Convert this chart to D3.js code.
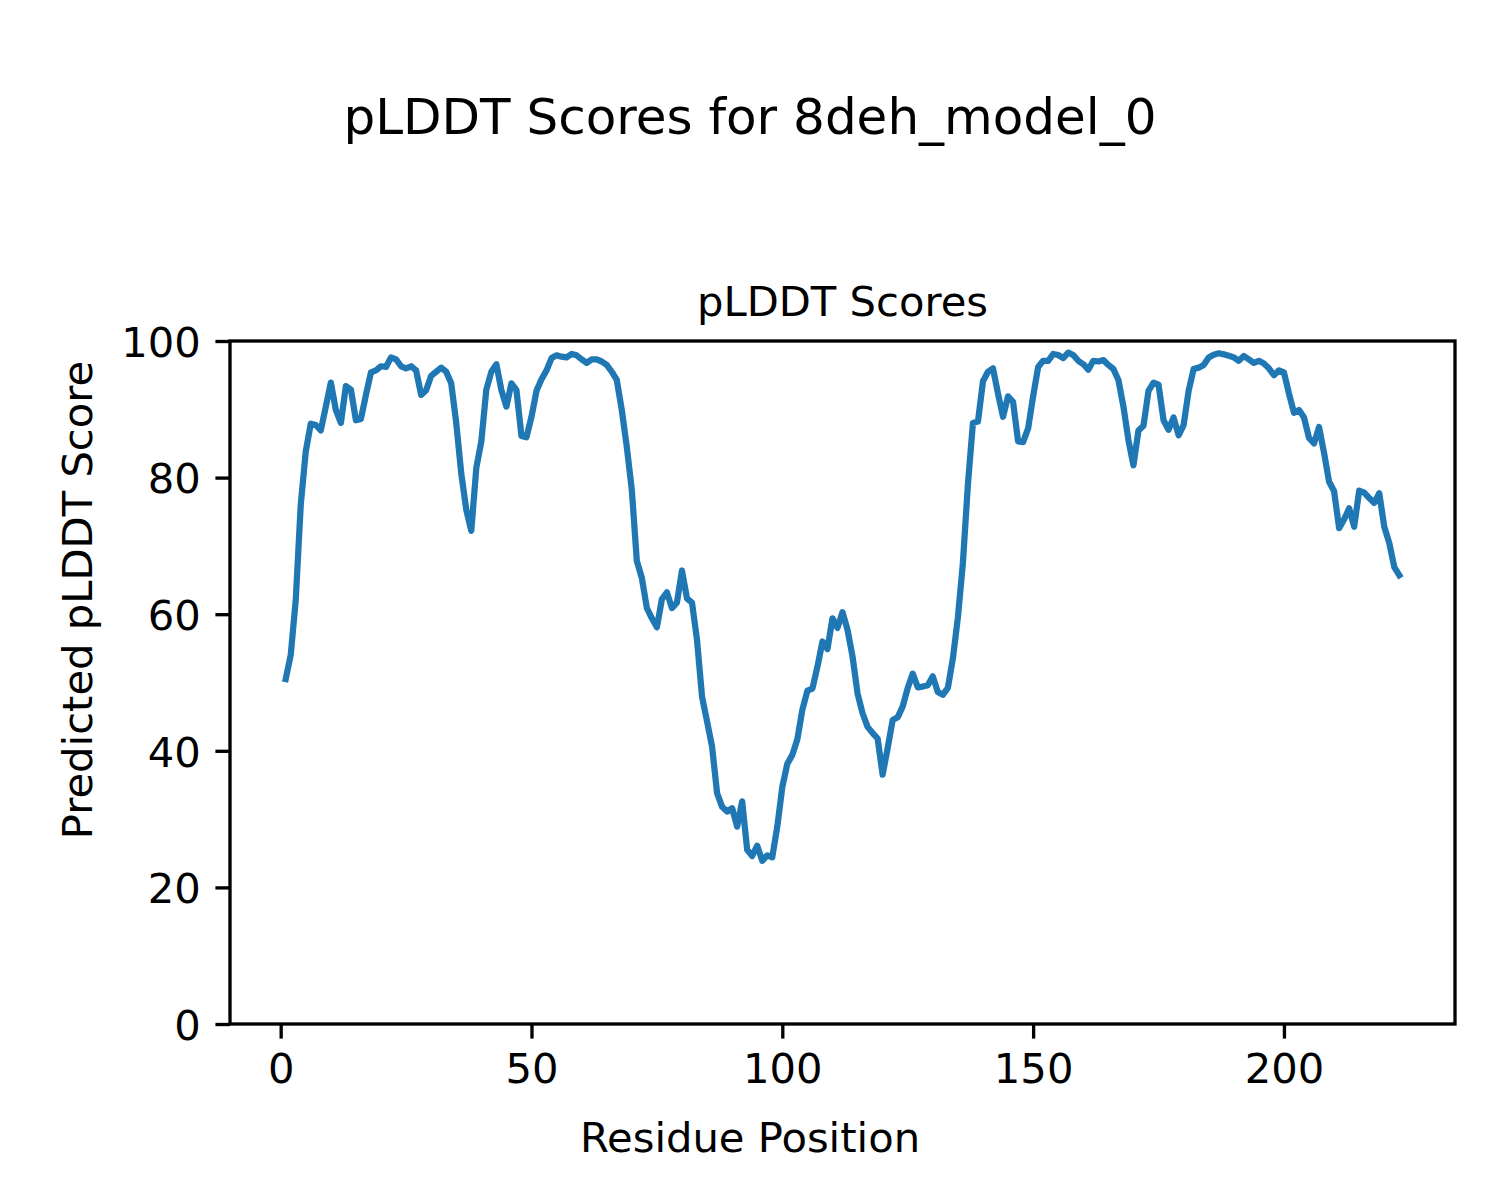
<!DOCTYPE html>
<html>
<head>
<meta charset="utf-8">
<script src="https://cdn.jsdelivr.net/npm/d3@7"></script>
<style>
  html, body { margin: 0; padding: 0; background: #ffffff; }
  svg { display: block; font-family: "DejaVu Sans", sans-serif; }
</style>
</head>
<body>
<script>
// ---- Data ----
const plddt = [
  50.5, 54.0, 62.0, 76.0, 83.8, 87.9, 87.7, 86.9, 90.4, 93.9,
  89.9, 88.0, 93.4, 92.9, 88.4, 88.6, 92.1, 95.4, 95.7, 96.3,
  96.2, 97.6, 97.3, 96.3, 96.0, 96.3, 95.7, 92.1, 92.8, 94.9,
  95.5, 96.1, 95.5, 93.8, 88.0, 80.6, 75.3, 72.2, 81.4, 85.3,
  92.9, 95.5, 96.6, 92.8, 90.4, 93.8, 92.8, 86.1, 85.9, 88.9,
  92.7, 94.4, 95.7, 97.5, 97.9, 97.7, 97.6, 98.1, 97.9, 97.3,
  96.8, 97.3, 97.3, 97.0, 96.5, 95.5, 94.3, 89.9, 84.5, 78.2,
  67.8, 65.3, 60.9, 59.4, 58.1, 62.2, 63.2, 60.9, 61.7, 66.4,
  62.3, 61.7, 56.2, 47.9, 44.3, 40.6, 33.8, 31.8, 31.1, 31.6,
  28.9, 32.6, 25.5, 24.6, 26.1, 23.9, 24.7, 24.4, 28.9, 34.7,
  38.1, 39.4, 41.7, 46.0, 48.8, 49.1, 52.3, 56.0, 54.9, 59.4,
  58.0, 60.3, 57.7, 53.8, 48.4, 45.5, 43.5, 42.6, 41.8, 36.5,
  40.4, 44.5, 44.9, 46.5, 49.2, 51.3, 49.3, 49.4, 49.6, 50.9,
  48.6, 48.2, 49.2, 53.5, 59.5, 67.5, 79.0, 88.0, 88.2, 94.1,
  95.5, 96.0, 92.3, 88.9, 91.9, 91.1, 85.3, 85.2, 87.2, 91.9,
  96.2, 97.1, 97.1, 98.1, 97.95, 97.5, 98.3, 97.95, 97.1, 96.6,
  95.8, 97.1, 97.0, 97.2, 96.5, 95.9, 94.3, 90.4, 85.5, 81.8,
  86.9, 87.6, 92.7, 93.9, 93.6, 88.4, 87.0, 88.8, 86.2, 87.7,
  92.7, 95.9, 96.1, 96.5, 97.6, 98.0, 98.2, 98.05, 97.85, 97.6,
  97.1, 97.8, 97.3, 96.8, 97.1, 96.7, 96.0, 95.0, 95.7, 95.4,
  92.3, 89.5, 89.9, 88.8, 85.8, 85.0, 87.4, 83.6, 79.4, 78.0,
  72.6, 73.9, 75.5, 72.8, 78.1, 77.8, 77.0, 76.3, 77.7, 72.8,
  70.4, 66.9, 65.7
];
const residues = plddt.map((_, i) => i + 1);
const xTicks = [0, 50, 100, 150, 200];
const yTicks = [0, 20, 40, 60, 80, 100];
const suptitleText = "pLDDT Scores for 8deh_model_0";
const titleText = "pLDDT Scores";
const xLabelText = "Residue Position";
const yLabelText = "Predicted pLDDT Score";

// ---- Layout ----
const W = 1500, H = 1200;
const axL = 230, axR = 1455, axT = 341, axB = 1024;
const tickLen = 14.6, tickPad = 14.6, spineW = 3.33;
const fs = 41.7;

const svg = d3.select("body").append("svg")
  .attr("width", W).attr("height", H)
  .attr("viewBox", `0 0 ${W} ${H}`);
svg.append("rect").attr("width", W).attr("height", H).attr("fill", "#ffffff");

const xmin = d3.min(residues), xmax = d3.max(residues);
const xm = 0.05 * (xmax - xmin);
const x = d3.scaleLinear().domain([xmin - xm, xmax + xm]).range([axL, axR]);
const y = d3.scaleLinear().domain([0, 100]).range([axB, axT]);

// Line
const line = d3.line().x((d, i) => x(residues[i])).y(d => y(d));
svg.append("path")
  .datum(plddt)
  .attr("d", line)
  .attr("fill", "none")
  .attr("stroke", "#1f77b4")
  .attr("stroke-width", 6.25)
  .attr("stroke-linejoin", "round")
  .attr("stroke-linecap", "square");

// Spines
svg.append("rect")
  .attr("x", axL).attr("y", axT)
  .attr("width", axR - axL).attr("height", axB - axT)
  .attr("fill", "none").attr("stroke", "#000").attr("stroke-width", spineW);

// X axis
const xAxis = d3.axisBottom(x).tickValues(xTicks).tickSize(tickLen).tickPadding(tickPad).tickFormat(d3.format("d"));
const gx = svg.append("g").attr("transform", `translate(0,${axB})`).call(xAxis);
gx.select(".domain").remove();
gx.selectAll(".tick line").attr("stroke", "#000").attr("stroke-width", spineW);
gx.selectAll(".tick text")
  .attr("fill", "#000")
  .style("font-family", "DejaVu Sans")
  .style("font-size", fs + "px")
  .attr("dy", null)
  .attr("y", 59);

// Y axis
const yAxis = d3.axisLeft(y).tickValues(yTicks).tickSize(tickLen).tickPadding(tickPad).tickFormat(d3.format("d"));
const gy = svg.append("g").attr("transform", `translate(${axL},0)`).call(yAxis);
gy.select(".domain").remove();
gy.selectAll(".tick line").attr("stroke", "#000").attr("stroke-width", spineW);
gy.selectAll(".tick text")
  .attr("fill", "#000")
  .style("font-family", "DejaVu Sans")
  .style("font-size", fs + "px")
  .attr("dy", null)
  .attr("y", 15.2);

// Titles and labels
svg.append("text")
  .attr("x", 750).attr("y", 134)
  .attr("text-anchor", "middle")
  .style("font-size", "50px")
  .attr("fill", "#000")
  .text(suptitleText);

svg.append("text")
  .attr("x", (axL + axR) / 2).attr("y", 316)
  .attr("text-anchor", "middle")
  .style("font-size", fs + "px")
  .attr("fill", "#000")
  .text(titleText);

svg.append("text")
  .attr("x", 750).attr("y", 1152)
  .attr("text-anchor", "middle")
  .style("font-size", fs + "px")
  .attr("fill", "#000")
  .text(xLabelText);

svg.append("text")
  .attr("transform", "translate(92,600) rotate(-90)")
  .attr("text-anchor", "middle")
  .style("font-size", fs + "px")
  .attr("fill", "#000")
  .text(yLabelText);
</script>
</body>
</html>
